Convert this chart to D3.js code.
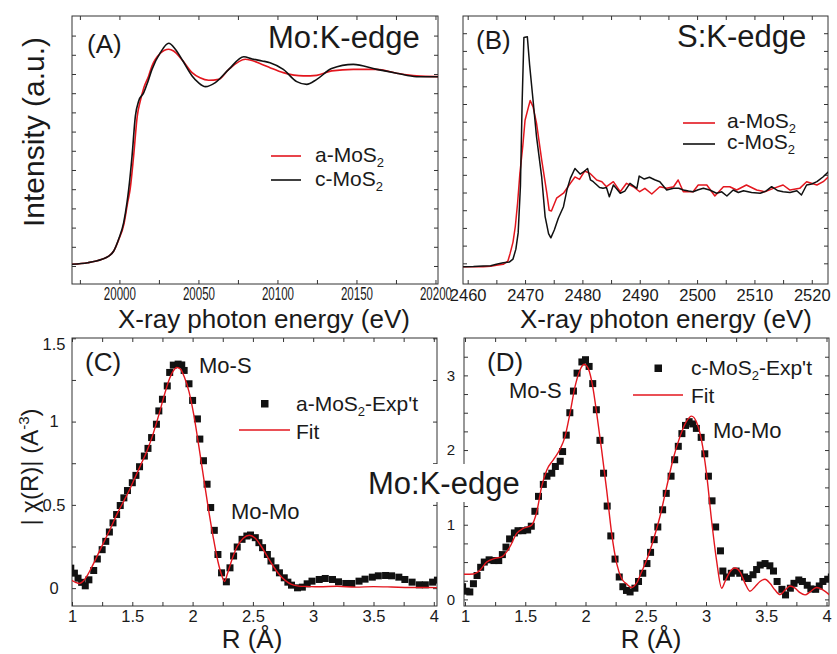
<!DOCTYPE html>
<html><head><meta charset="utf-8">
<script src="https://cdn.jsdelivr.net/npm/d3@7"></script>
<style>
body{margin:0;background:#fff}
svg{display:block}
text{font-family:"Liberation Sans",Arial,sans-serif;fill:#1a1a1a}
</style></head>
<body><svg id="c" width="837" height="654"></svg>
<script>
// ---------- DATA ----------
// (A) Mo K-edge XANES
const eMoC = [19970,19980,19989,19993,19996.4,19999.5,20002.7,20004.8,20005.9,20008,20010.1,20012.2,20015.4,20018,20020.6,20025.9,20031.2,20035.4,20040,20046,20050,20054.4,20060.7,20069.2,20078.7,20084,20090.3,20095.3,20103.7,20112.2,20118.5,20124.9,20134.3,20148,20162.8,20175.5,20188,20202];
const muMoC = [0.009,0.017,0.035,0.05,0.078,0.139,0.226,0.33,0.40,0.573,0.781,0.859,0.903,0.96,1.024,1.111,1.16,1.129,1.07,0.99,0.955,0.934,0.955,1.024,1.09,1.078,1.068,1.059,1.024,0.96,0.946,0.972,1.028,1.05,1.024,1.004,0.986,0.986];
const eMoA = [19970,19980,19989,19993,19996.4,19999.5,20002.9,20005.2,20006.8,20009,20011.3,20013.2,20015.5,20018.5,20020.6,20025.9,20031.2,20034.3,20040,20046,20051,20056.5,20062.8,20069.2,20079.7,20090.3,20095.3,20103.7,20116.4,20124.9,20134.3,20148,20162.8,20175.5,20188,20202];
const muMoA = [0.009,0.017,0.035,0.05,0.078,0.136,0.22,0.33,0.40,0.573,0.781,0.859,0.93,0.99,1.042,1.108,1.129,1.12,1.07,1.007,0.98,0.967,0.972,1.024,1.077,1.05,1.033,1.007,0.99,0.993,1.016,1.024,1.024,1.004,0.99,0.986];
// (B) S K-edge XANES
const eSC = [2459.2,2461,2462.7,2464,2465.0,2466.2,2467.3,2467.9,2468.4,2468.8,2469.2,2469.5,2469.8,2470.4,2470.8,2471.4,2472.0,2472.9,2473.5,2474.1,2474.5,2475.1,2475.8,2476.7,2477.3,2477.9,2478.7,2479.6,2480.2,2480.9,2481.4,2481.9,2483.0,2483.6,2484.2,2484.7,2485.4,2486.0,2486.6,2487.4,2488.3,2489.5,2489.9,2490.8,2491.7,2492.6,2493.5,2494.7,2495.9,2496.8,2497.6,2498.5,2499.3,2500.2,2501.1,2502.2,2503.4,2504.3,2505.2,2506.3,2507.2,2508.1,2509.5,2511.0,2512.0,2513.0,2514.0,2515.0,2516.2,2517.4,2518.2,2519.1,2520.0,2520.9,2522.0,2522.9];
const muSC = [-0.048,-0.045,-0.038,-0.035,-0.014,0.008,0.02,0.06,0.2,0.43,1.1,2.3,3.19,3.2,2.8,2.3,1.79,1.22,0.66,0.42,0.36,0.47,0.636,0.8,1.035,1.2,1.34,1.26,1.29,1.34,1.18,1.153,1.07,1.059,1.07,0.941,1.106,1.05,0.989,1.02,1.13,1.059,1.233,1.19,1.215,1.18,1.153,1.035,1.059,1.06,1.035,1.02,1.011,1.04,1.059,1.035,0.989,1.01,0.951,1.035,1.0,1.025,1.0,0.989,1.02,1.082,1.03,1.011,1.0,1.025,0.965,1.106,1.12,1.153,1.223,1.294];
const eSA = [2459.2,2461,2462.7,2464,2465.0,2466.2,2467.0,2467.4,2467.9,2468.3,2468.7,2469.1,2469.6,2470.0,2470.6,2470.9,2471.4,2472.0,2472.9,2473.8,2474.2,2474.6,2475.5,2476.7,2477.9,2478.7,2479.5,2480.4,2481.3,2482.5,2483.4,2484.2,2485.4,2486.6,2487.7,2488.9,2490.0,2490.9,2492.1,2493.5,2494.7,2495.9,2496.7,2497.6,2499.3,2500.2,2501.7,2503.1,2504.6,2505.7,2506.9,2508.6,2510.4,2511.8,2513.3,2515.0,2516.2,2517.9,2519.1,2520.9,2522.0,2522.9];
const muSA = [-0.048,-0.05,-0.048,-0.04,-0.028,-0.014,0.03,0.14,0.3,0.52,0.85,1.27,1.65,2.02,2.21,2.3,2.21,1.98,1.46,0.99,0.75,0.74,0.92,0.99,1.13,1.22,1.186,1.304,1.271,1.177,1.153,1.082,1.153,1.011,1.13,1.082,1.011,1.059,0.979,1.082,1.059,1.082,1.177,1.011,1.011,1.106,1.106,0.951,1.082,1.082,1.035,1.106,1.035,1.011,1.059,1.106,1.035,1.059,1.153,1.106,1.153,1.223];
// (C) a-MoS2 |chi(R)|
const rCexp = [0.99,1.02,1.05,1.08,1.11,1.14,1.18,1.21,1.25,1.28,1.31,1.34,1.37,1.40,1.43,1.46,1.50,1.53,1.56,1.60,1.63,1.66,1.70,1.72,1.75,1.79,1.81,1.84,1.88,1.91,1.93,1.97,2.00,2.04,2.06,2.09,2.12,2.15,2.18,2.21,2.24,2.28,2.31,2.34,2.37,2.41,2.45,2.48,2.52,2.55,2.58,2.62,2.65,2.69,2.72,2.76,2.79,2.82,2.87,2.91,2.95,2.99,3.05,3.10,3.16,3.21,3.27,3.32,3.38,3.43,3.49,3.54,3.60,3.65,3.71,3.76,3.82,3.88,3.93,3.99,4.03];
const chiCexp = [0.12,0.09,0.06,0.035,0.014,0.05,0.106,0.175,0.231,0.281,0.337,0.392,0.442,0.496,0.542,0.586,0.633,0.677,0.729,0.793,0.839,0.904,0.984,1.064,1.134,1.214,1.295,1.339,1.345,1.34,1.307,1.227,1.127,1.016,0.895,0.765,0.624,0.484,0.347,0.202,0.092,0.038,0.122,0.193,0.247,0.293,0.313,0.319,0.303,0.273,0.243,0.202,0.163,0.122,0.092,0.062,0.036,0.018,0.002,0.006,0.026,0.042,0.052,0.058,0.052,0.038,0.028,0.028,0.042,0.054,0.066,0.074,0.076,0.074,0.066,0.052,0.036,0.02,0.02,0.036,0.048];
const rCfit = [0.99,1.03,1.06,1.09,1.13,1.17,1.22,1.27,1.32,1.37,1.42,1.47,1.52,1.57,1.62,1.67,1.72,1.77,1.81,1.84,1.87,1.90,1.93,1.97,2.01,2.05,2.09,2.13,2.17,2.21,2.24,2.265,2.29,2.33,2.37,2.42,2.47,2.52,2.57,2.62,2.67,2.72,2.77,2.82,2.88,2.95,3.05,3.2,3.35,3.5,3.65,3.8,3.95,4.03];
const chiCfit = [0.05,0.035,0.028,0.04,0.08,0.135,0.21,0.285,0.36,0.44,0.51,0.58,0.66,0.74,0.82,0.92,1.04,1.17,1.26,1.305,1.325,1.315,1.27,1.18,1.04,0.86,0.67,0.48,0.31,0.16,0.08,0.04,0.09,0.18,0.25,0.30,0.318,0.30,0.25,0.19,0.13,0.08,0.045,0.022,0.012,0.01,0.008,0.011,0.006,0.009,0.007,0.004,0.004,0.003];
// (D) c-MoS2 |chi(R)|
const rDexp = [0.98,1.01,1.04,1.07,1.10,1.13,1.16,1.20,1.24,1.28,1.31,1.34,1.37,1.41,1.44,1.48,1.52,1.55,1.58,1.61,1.65,1.68,1.72,1.75,1.79,1.81,1.84,1.87,1.90,1.93,1.97,2.00,2.03,2.06,2.09,2.12,2.15,2.18,2.21,2.245,2.28,2.31,2.34,2.37,2.41,2.44,2.475,2.51,2.54,2.57,2.60,2.64,2.67,2.71,2.74,2.77,2.80,2.83,2.86,2.89,2.92,2.96,2.99,3.02,3.05,3.08,3.12,3.14,3.17,3.21,3.25,3.28,3.32,3.35,3.39,3.42,3.45,3.49,3.53,3.56,3.59,3.63,3.66,3.70,3.73,3.77,3.80,3.84,3.87,3.91,3.94,3.97,4.01,4.04];
const chiDexp = [0.17,0.11,0.10,0.21,0.32,0.43,0.50,0.53,0.52,0.52,0.60,0.70,0.81,0.89,0.92,0.92,0.93,0.98,1.18,1.38,1.54,1.65,1.69,1.78,1.85,1.98,2.20,2.50,2.79,3.03,3.18,3.21,3.12,2.89,2.54,2.13,1.69,1.25,0.85,0.54,0.30,0.17,0.12,0.10,0.15,0.24,0.35,0.48,0.63,0.80,0.97,1.20,1.42,1.65,1.87,2.05,2.22,2.33,2.38,2.35,2.29,2.17,1.95,1.65,1.32,0.97,0.65,0.38,0.30,0.35,0.38,0.35,0.30,0.28,0.33,0.40,0.46,0.48,0.45,0.38,0.24,0.135,0.06,0.15,0.215,0.26,0.24,0.19,0.14,0.135,0.18,0.24,0.27,0.30];
const rDfit = [0.99,1.07,1.124,1.18,1.249,1.305,1.373,1.429,1.484,1.553,1.595,1.636,1.678,1.733,1.788,1.83,1.871,1.913,1.954,1.988,2.023,2.06,2.093,2.134,2.176,2.217,2.259,2.30,2.342,2.383,2.425,2.466,2.508,2.563,2.618,2.674,2.729,2.784,2.84,2.88,2.92,2.963,3.004,3.046,3.087,3.13,3.158,3.199,3.24,3.282,3.324,3.365,3.407,3.448,3.49,3.531,3.573,3.614,3.656,3.697,3.739,3.78,3.822,3.863,3.918,3.973,4.025];
const chiDfit = [0.336,0.34,0.39,0.50,0.55,0.57,0.705,0.885,0.95,0.995,1.17,1.51,1.73,1.87,2.01,2.18,2.49,2.85,3.07,3.15,3.09,2.85,2.49,2.0,1.46,0.885,0.48,0.28,0.205,0.16,0.22,0.37,0.53,0.795,1.11,1.51,1.89,2.18,2.39,2.455,2.38,2.13,1.69,1.06,0.53,0.15,0.24,0.37,0.42,0.37,0.215,0.11,0.17,0.24,0.27,0.215,0.125,0.065,0.125,0.18,0.15,0.09,0.06,0.10,0.16,0.125,0.06];
// tick labels
const ticksA = [20000,20050,20100,20150,20200];
const ticksB = [2460,2470,2480,2490,2500,2510,2520];
const ticksR = [1,1.5,2,2.5,3,3.5,4];
const ticksCy = [0,0.5,1,1.5];
const ticksDy = [0,1,2,3];

// ---------- DRAW ----------
const RED = "#e3161e", BLK = "#111";
const svg = d3.select("#c");
svg.append("rect").attr("width",837).attr("height",654).attr("fill","#fff");

function panel(p){
  const x = d3.scaleLinear().domain(p.xd).range([p.l,p.r]);
  const y = d3.scaleLinear().domain(p.yd).range([p.b,p.t]);
  const g = svg.append("g");
  const cid = "clip"+p.name;
  svg.append("clipPath").attr("id",cid).append("rect")
     .attr("x",p.l).attr("y",p.t).attr("width",p.r-p.l).attr("height",p.b-p.t);
  const ax = (gen,tr)=>{
    const a = g.append("g").attr("transform",tr).call(gen);
    a.select(".domain").remove();
    a.selectAll(".tick line").attr("stroke","#333").attr("stroke-width",1);
    return a;
  };
  ax(d3.axisBottom(x).tickValues(p.xMinor).tickSize(-4).tickFormat(""),`translate(0,${p.b})`);
  ax(d3.axisTop(x).tickValues(p.xMinor).tickSize(-4).tickFormat(""),`translate(0,${p.t})`);
  ax(d3.axisLeft(y).tickValues(p.yMinor).tickSize(-4).tickFormat(""),`translate(${p.l},0)`);
  ax(d3.axisRight(y).tickValues(p.yMinor).tickSize(-4).tickFormat(""),`translate(${p.r},0)`);
  const xl = ax(d3.axisBottom(x).tickValues(p.xLab).tickSize(0).tickPadding(p.xPad).tickFormat(d3.format("~g")),`translate(0,${p.b})`);
  xl.attr("font-family","Liberation Sans, Arial, sans-serif").attr("font-size",p.xFs||16);
  xl.selectAll("text").attr("fill","#1a1a1a");
  if(p.xSx) xl.selectAll("text").attr("transform",`scale(${p.xSx},1)`);
  let yl = null;
  if(p.yLab){
    yl = ax(d3.axisLeft(y).tickValues(p.yLab).tickSize(0).tickPadding(0).tickFormat(d3.format("~g")),`translate(${p.l},0)`);
    yl.attr("font-family",p.yFont).attr("font-size",p.yFs);
    yl.selectAll("text").attr("fill","#1a1a1a").attr("text-anchor","middle").attr("x",p.yLx);
  }
  g.append("rect").attr("x",p.l).attr("y",p.t).attr("width",p.r-p.l).attr("height",p.b-p.t)
   .attr("fill","none").attr("stroke","#333").attr("stroke-width",1);
  const d = svg.append("g").attr("clip-path",`url(#${cid})`);
  return {x,y,g,d,yl};
}
function curve(P, xs, ys, color, w, cv){
  const pts = xs.map((v,i)=>[v,ys[i]]);
  P.d.append("path").attr("d", d3.line().x(q=>P.x(q[0])).y(q=>P.y(q[1])).curve(cv)(pts))
    .attr("fill","none").attr("stroke",color).attr("stroke-width",w).attr("stroke-linejoin","round");
}
function squares(P, xs, ys, s){
  P.d.selectAll(null).data(xs.map((v,i)=>[v,ys[i]])).join("rect")
    .attr("x",q=>P.x(q[0])-s/2).attr("y",q=>P.y(q[1])-s/2).attr("width",s).attr("height",s).attr("fill","#111");
}
function txt(x,y,s,size,anchor){
  return svg.append("text").attr("x",x).attr("y",y).attr("font-size",size).attr("text-anchor",anchor||"start").text(s);
}
function subTxt(x,y,pre,post,size){
  const t = svg.append("text").attr("x",x).attr("y",y).attr("font-size",size);
  t.append("tspan").text(pre);
  t.append("tspan").attr("font-size",size*0.62).attr("dy",5).text("2");
  if(post) t.append("tspan").attr("dy",-5).text(post);
  return t;
}

// Panel A
const A = panel({name:"A", l:72, r:438, t:16, b:284, xd:[19970,20201.6], yd:[-0.09375,1.302],
  xMinor:d3.range(19975,20202,25), yMinor:d3.range(0,1.25,0.1), xLab:ticksA, xPad:4, xFs:17.5, xSx:0.66});
curve(A, eMoA, muMoA, RED, 1.6, d3.curveMonotoneX);
curve(A, eMoC, muMoC, BLK, 1.6, d3.curveMonotoneX);
txt(87,53,"(A)",26);
txt(268,48,"Mo:K-edge",31);
svg.append("line").attr("x1",271).attr("x2",301).attr("y1",156).attr("y2",156).attr("stroke",RED).attr("stroke-width",1.6);
svg.append("line").attr("x1",271).attr("x2",301).attr("y1",180).attr("y2",180).attr("stroke",BLK).attr("stroke-width",1.6);
subTxt(315,162,"a-MoS",null,21);
subTxt(315,186,"c-MoS",null,21);
txt(264,328,"X-ray photon energy (eV)",26,"middle");
svg.append("text").attr("transform","translate(44,132) rotate(-90)").attr("text-anchor","middle")
   .attr("font-size",30).text("Intensity (a.u.)");

// Panel B
const B = panel({name:"B", l:463, r:828, t:16, b:284, xd:[2459.18,2522.83], yd:[-0.292,3.493],
  xMinor:d3.range(2460,2523,5), yMinor:d3.range(0,3.45,0.25), xLab:ticksB, xPad:5, xFs:16.5});
curve(B, eSA, muSA, RED, 1.5, d3.curveLinear);
curve(B, eSC, muSC, BLK, 1.5, d3.curveLinear);
txt(476,49,"(B)",26);
txt(677,47,"S:K-edge",31);
svg.append("line").attr("x1",683).attr("x2",715).attr("y1",123).attr("y2",123).attr("stroke",RED).attr("stroke-width",1.6);
svg.append("line").attr("x1",683).attr("x2",715).attr("y1",144).attr("y2",144).attr("stroke",BLK).attr("stroke-width",1.6);
subTxt(727,128,"a-MoS",null,21);
subTxt(727,149,"c-MoS",null,21);
txt(666,328,"X-ray photon energy (eV)",26,"middle");

// Panel C
const C = panel({name:"C", l:72, r:437, t:338, b:606, xd:[1,4.0265], yd:[-0.1072,1.5018],
  xMinor:d3.range(1,4.01,0.25), yMinor:d3.range(0,1.51,0.25), xLab:ticksR, xPad:4.3, xFs:16.5,
  yLab:ticksCy, yFont:"Liberation Sans, Arial, sans-serif", yFs:16.5, yLx:-18});
C.yl.selectAll("text").filter(v=>v===1.5).attr("dy","0.7em");
squares(C, rCexp, chiCexp, 7);
curve(C, rCfit, chiCfit, RED, 1.4, d3.curveMonotoneX);
txt(85,371,"(C)",26);
txt(199,373,"Mo-S",22);
txt(231,519,"Mo-Mo",22);
svg.append("rect").attr("x",261).attr("y",400).attr("width",7.5).attr("height",7.5).attr("fill","#111");
subTxt(296,411,"a-MoS","-Exp't",21);
svg.append("line").attr("x1",239).attr("x2",290).attr("y1",430).attr("y2",430).attr("stroke",RED).attr("stroke-width",1.4);
txt(296,439,"Fit",21);
txt(252,648,"R (Å)",26,"middle");
{
  const t = svg.append("text").attr("transform","translate(38,467) rotate(-90)").attr("text-anchor","middle").attr("font-size",24);
  t.append("tspan").text("| χ(R)| (A");
  t.append("tspan").attr("font-size",15).attr("dy",-9).text("-3");
  t.append("tspan").attr("dy",9).text(")");
}

// Panel D
const D = panel({name:"D", l:464, r:829, t:338, b:606, xd:[0.9917,4.0207], yd:[-0.0884,3.5007],
  xMinor:d3.range(1,4.01,0.25), yMinor:d3.range(0,3.5,0.25), xLab:ticksR, xPad:4.3, xFs:16.5,
  yLab:ticksDy, yFont:"Liberation Serif, Times New Roman, serif", yFs:15, yLx:-13});
squares(D, rDexp, chiDexp, 7);
curve(D, rDfit, chiDfit, RED, 1.4, d3.curveMonotoneX);
txt(487,371,"(D)",26);
txt(509,398,"Mo-S",22);
txt(713,438,"Mo-Mo",22);
svg.append("rect").attr("x",654.5).attr("y",364.5).attr("width",7.5).attr("height",7.5).attr("fill","#111");
subTxt(691,375,"c-MoS","-Exp't",21);
svg.append("line").attr("x1",633).attr("x2",683).attr("y1",395).attr("y2",395).attr("stroke",RED).attr("stroke-width",1.4);
txt(691,403,"Fit",21);
txt(651,648,"R (Å)",26,"middle");

// overlay label
svg.append("rect").attr("x",366).attr("y",464).attr("width",160).attr("height",38).attr("fill","#fff");
txt(368,494,"Mo:K-edge",31);
</script></body></html>
